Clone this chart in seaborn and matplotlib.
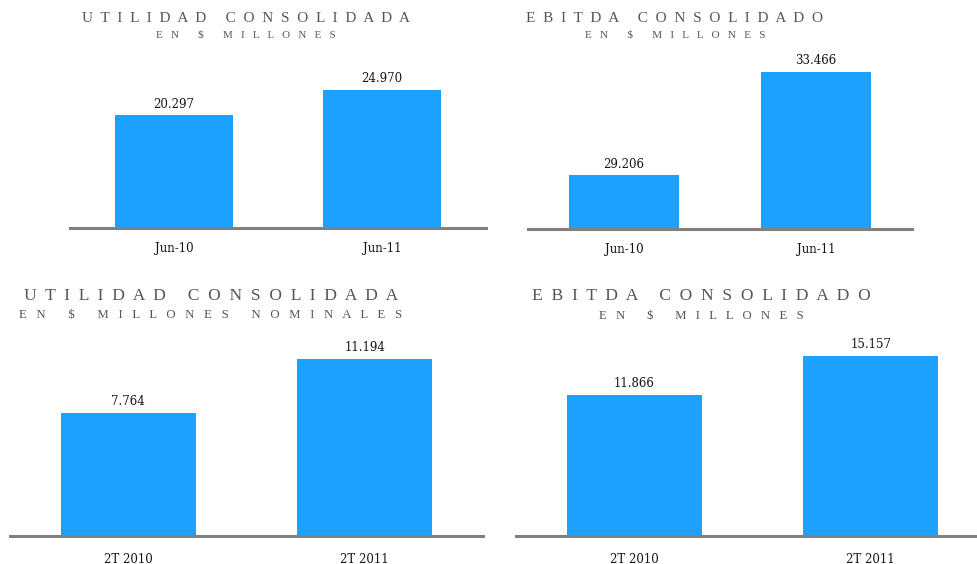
import numpy as np
import pandas as pd
import matplotlib
matplotlib.use("Agg")
import matplotlib.pyplot as plt
import seaborn as sns

# data
utilidad_acum_labels = ["Jun-10", "Jun-11"]
utilidad_acum_values = [20297, 24970]

ebitda_acum_labels = ["Jun-10", "Jun-11"]
ebitda_acum_values = [29206, 33466]

utilidad_trim_labels = ["2T 2010", "2T 2011"]
utilidad_trim_values = [7764, 11194]

ebitda_trim_labels = ["2T 2010", "2T 2011"]
ebitda_trim_values = [11866, 15157]

titles = ["UTILIDAD CONSOLIDADA", "EBITDA CONSOLIDADO",
          "UTILIDAD CONSOLIDADA", "EBITDA CONSOLIDADO"]
subtitles = ["EN $ MILLONES", "EN $ MILLONES",
             "EN $ MILLONES NOMINALES", "EN $ MILLONES"]

sns.set_style("white")
plt.rcParams['font.family'] = ['DejaVu Serif', 'DejaVu Sans']

BLUE = "#1ca1ff"
GREY = "#808080"
TXT = "#151515"
TITLE_COL = "#555555"

W, H = 977, 564
fig = plt.figure(figsize=(W / 100, H / 100), dpi=100)


def spaced(s, gap, word_gap):
    words = s.split(" ")
    return (" " * word_gap).join((" " * gap).join(list(w)) for w in words)


# axes rectangles in pixels: left, right, bottom(baseline), top
panels = [
    (utilidad_acum_labels, utilidad_acum_values, (70, 486, 228, 40), (0, 33900)),
    (ebitda_acum_labels, ebitda_acum_values, (528, 912, 229, 40), (27000, 34780)),
    (utilidad_trim_labels, utilidad_trim_values, (10, 483, 536, 325), (0, 13340)),
    (ebitda_trim_labels, ebitda_trim_values, (516, 989, 536, 325), (0, 17800)),
]

# title placement: x centre, title baseline, subtitle baseline (pixels), sizes
title_pos = [(246, 22, 38, 11, 7.9), (675, 22, 38, 11, 8.0),
             (211, 300, 318, 12.6, 9.2), (701, 300, 319, 12.6, 9.1)]

for i, (labels, values, rect, ylim) in enumerate(panels):
    l, r, b, t = rect
    ax = fig.add_axes([l / W, (H - b) / H, (r - l) / W, (b - t) / H])
    df = pd.DataFrame({"cat": labels, "val": values})
    sns.barplot(data=df, x="cat", y="val", ax=ax, color=BLUE, saturation=1,
                width=0.57, linewidth=0)
    ax.set_xlim(-0.5, 1.5)
    ax.set_ylim(*ylim)
    ax.set_xlabel("")
    ax.set_ylabel("")
    ax.set_yticks([])
    for side in ["top", "right", "left"]:
        ax.spines[side].set_visible(False)
    ax.spines["bottom"].set_color(GREY)
    ax.spines["bottom"].set_linewidth(2.2)
    ax.spines["bottom"].set_zorder(3)
    ax.tick_params(axis="x", length=0, pad=10 if i < 2 else 12,
                   labelsize=8.5, labelcolor=TXT)
    ax.patch.set_alpha(0)
    ax.bar_label(ax.containers[0],
                 labels=[f"{v:,.0f}".replace(",", ".") for v in values],
                 padding=3.5, fontsize=8.5, color=TXT)

    cx, ty, sy, ts, ss = title_pos[i]
    fig.text(cx / W, (H - ty) / H, spaced(titles[i], 2, 5),
             ha="center", va="baseline", fontsize=ts,
             family="Liberation Serif", color=TITLE_COL)
    fig.text(cx / W, (H - sy) / H, spaced(subtitles[i], 3, 7),
             ha="center", va="baseline", fontsize=ss,
             family="Liberation Serif", color=TITLE_COL)

fig.savefig("out.png", dpi=100)
